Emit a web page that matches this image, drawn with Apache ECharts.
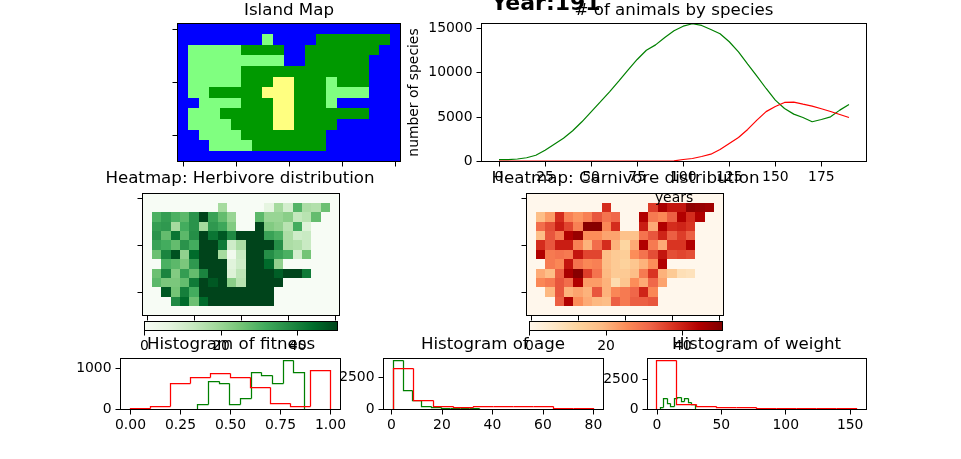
<!DOCTYPE html>
<html><head><meta charset="utf-8">
<style>html,body{margin:0;padding:0;background:#fff}#c{width:961px;height:459px}</style>
<script src="https://cdn.jsdelivr.net/npm/echarts@6/dist/echarts.min.js"></script>
</head><body><div id="c"></div>
<script>
// --- data ---
const islandRows = [
 "WWWWWWWWWWWWWWWWWWWWW",
 "WWWWWWWWLWWWWHHHHHHHW",
 "WLLLLLHHHHWWHHHHHHHWW",
 "WLLLLLLLLLWWHHHHHHWWW",
 "WLLLLLHHHHHHHHHHHHWWW",
 "WLLLLLHHHMMHHHLHHHWWW",
 "WLLHHHHHMMMHHHLLLLWWW",
 "WWLLLLHHHMMHHHLWWWWWW",
 "WLLLHHHHHMMHHHHHHHWWW",
 "WLLLLHHHHMMHHHHWWWWWW",
 "WWLLLLHHHHHHHHWWWWWWW",
 "WWWLLLLHHHHHHHWWWWWWW",
 "WWWWWWWWWWWWWWWWWWWWW"];
const herbivoreGrid = [
 [0,0,0,0,0,0,0,0,0,0,0,0,0,0,0,0,0,0,0,0,0],
 [0,0,0,0,0,0,0,0,18,0,0,0,0,6,18,10,29,17,16,26,0],
 [0,30,34,30,28,36,50,33,27,20,0,0,28,20,20,22,13,15,27,0,0],
 [0,34,35,18,31,36,18,35,32,23,0,0,50,23,21,15,31,8,0,0,0],
 [0,36,27,42,28,37,50,42,47,38,50,50,50,33,30,17,11,12,0,0,0],
 [0,33,31,27,36,31,50,50,41,11,17,50,50,50,37,17,16,12,0,0,0],
 [0,26,39,48,21,44,50,50,18,2,12,50,50,37,33,30,10,25,0,0,0],
 [0,0,30,28,24,35,50,50,50,7,11,50,50,44,21,0,0,0,0,0,0],
 [0,26,39,23,34,27,39,50,50,8,14,50,50,50,46,50,50,41,0,0,0],
 [0,28,24,24,27,41,50,47,50,22,15,50,50,50,50,0,0,0,0,0,0],
 [0,0,47,25,40,31,50,50,50,50,50,50,50,50,0,0,0,0,0,0,0],
 [0,0,0,38,44,26,44,50,50,50,50,50,50,50,0,0,0,0,0,0,0],
 [0,0,0,0,0,0,0,0,0,0,0,0,0,0,0,0,0,0,0,0,0]];
const carnivoreGrid = [
 [0,0,0,0,0,0,0,0,0,0,0,0,0,0,0,0,0,0,0,0,0],
 [0,0,0,0,0,0,0,0,38,0,0,0,0,36,45,41,41,48,47,46,0],
 [0,18,23,38,27,24,27,33,29,31,0,0,44,28,26,32,44,38,44,0,0],
 [0,30,34,40,35,27,49,49,26,38,0,0,40,21,44,38,39,37,0,0,0],
 [0,18,33,28,44,47,25,25,22,22,17,17,29,33,39,32,36,32,0,0,0],
 [0,38,33,40,40,27,20,30,38,20,12,21,44,28,21,37,37,44,0,0,0],
 [0,44,28,29,28,41,35,35,18,15,14,25,29,34,41,34,35,34,0,0,0],
 [0,0,28,26,41,29,26,27,18,15,13,16,20,25,44,0,0,0,0,0,0],
 [0,21,18,32,45,49,36,29,19,15,15,18,28,37,20,15,9,8,0,0,0],
 [0,26,28,33,30,44,23,23,20,10,16,25,21,31,22,0,0,0,0,0,0],
 [0,0,19,33,20,22,20,33,20,26,28,31,39,26,0,0,0,0,0,0,0],
 [0,0,0,32,44,25,21,19,18,32,28,32,32,33,0,0,0,0,0,0,0],
 [0,0,0,0,0,0,0,0,0,0,0,0,0,0,0,0,0,0,0,0,0]];
const years = [0,5,10,15,20,25,30,35,40,45,50,55,60,65,70,75,80,85,90,95,100,105,110,115,120,125,130,135,140,145,150,155,160,165,170,175,180,185,190];
const herbivores = [200,220,280,420,700,1270,1950,2620,3450,4460,5580,6700,7830,9030,10260,11460,12500,13100,13930,14680,15200,15470,15280,14830,14350,13450,12320,10940,9590,8200,6890,5955,5320,4940,4460,4720,5020,5770,6400];
const carnivores = [50,50,50,50,50,50,50,50,50,50,50,50,50,50,50,50,50,50,50,60,225,340,560,820,1350,2020,2700,3600,4650,5600,6180,6630,6670,6440,6220,5920,5620,5280,4940];
const fitEdgesRed = [0,0.1,0.2,0.3,0.4,0.5,0.6,0.7,0.8,0.9,1.0];
const fitCountsRed = [30,75,635,780,880,780,535,145,75,960];
const fitEdgesGreen = [0.337,0.39,0.443,0.496,0.55,0.603,0.656,0.71,0.763,0.816,0.868];
const fitCountsGreen = [130,680,635,120,275,900,835,635,1195,900];
const ageEdgesRed = [1,8.9,16.8,24.7,32.6,40.5,48.4,56.3,64.2,72.1,80];
const ageCountsRed = [3200,700,260,155,260,260,260,260,105,105];
const ageEdgesGreen = [0.8,4.6,8.4,12.1,15.9,19.7,23.5,27.3,31.1,34.9,38.1];
const ageCountsGreen = [3830,1480,730,235,130,100,80,50,50,25];
const weightEdgesRed = [0,15.5,31,46.5,62,77.5,93,108.5,124,139.5,155];
const weightCountsRed = [4040,410,275,190,190,110,110,110,110,110];
const weightEdgesGreen = [2.7,5.4,8.1,10.8,13.5,16.2,18.9,21.6,24.3,27,29.7];
const weightCountsGreen = [140,905,520,250,930,990,690,905,600,410];
const greens = ['#f7fcf5','#e5f5e0','#c7e9c0','#a1d99b','#74c476','#41ab5d','#238b45','#006d2c','#00441b'];
const orRd = ['#fff7ec','#fee8c8','#fdd49e','#fdbb84','#fc8d59','#ef6548','#d7301f','#b30000','#7f0000'];
const terrainKeys = ['W','L','H','M'];
const terrainColors = ['#0000ff','#80ff80','#009900','#ffff80'];

// --- helpers ---
const FF = 'DejaVu Sans';
const chart = echarts.init(document.getElementById('c'), null, {renderer:'canvas'});
const grids=[], xAxes=[], yAxes=[], series=[], titles=[], vms=[];
const line = {show:true,onZero:false,lineStyle:{color:'#000',width:1}};
const lbl = {color:'#000',fontFamily:FF,fontSize:13.9,margin:9};
function addGrid(g){ grids.push(Object.assign({containLabel:false,show:false},g)); return grids.length-1; }
function frame(gi){
  const base={type:'value',min:0,max:1,gridIndex:gi,z:5,axisLine:line,axisTick:{show:false},axisLabel:{show:false},splitLine:{show:false}};
  xAxes.push(Object.assign({},base,{position:'top'}));
  yAxes.push(Object.assign({},base,{position:'right'}));
}
function valueAxis(gi,min,max,ticks,fmt,extra){
  return Object.assign({type:'value',gridIndex:gi,min,max,z:5,axisLine:line,splitLine:{show:false},
    axisTick:{show:true,length:5,customValues:ticks,lineStyle:{color:'#000',width:1}},
    axisLabel:Object.assign({},lbl,{customValues:ticks,formatter:fmt||(v=>String(v)),showMinLabel:true,showMaxLabel:true})},extra||{});
}
function catAxis(gi,n,inverse,extra){
  return Object.assign({type:'category',gridIndex:gi,inverse:!!inverse,data:Array.from({length:n},(_,i)=>i),z:5,axisLine:line,
    splitLine:{show:false},axisLabel:{show:false},
    axisTick:{show:true,length:5,alignWithLabel:true,interval:i=>i%5===0,lineStyle:{color:'#000',width:1}}},extra||{});
}
function title(text,x,y,o){ titles.push({text,left:x,top:y,textAlign:'center',padding:0,
  textStyle:Object.assign({color:'#000',fontFamily:FF,fontSize:16.67,fontWeight:'normal'},o||{}),z:20}); }
function heat(g,grid,vmStops,pieces){
  const gi=addGrid(g);
  xAxes.push(catAxis(gi,21)); yAxes.push(catAxis(gi,13,true));
  frame(gi);
  const ai=xAxes.length-2;
  const data=[]; grid.forEach((row,r)=>row.forEach((v,c)=>data.push([c,r,v])));
  series.push({type:'custom',xAxisIndex:ai,yAxisIndex:ai,data,silent:true,encode:{x:0,y:1},
    renderItem:(p,api)=>{
      const m=api.coord([api.value(0),api.value(1)]), s=api.size([1,1]);
      const x0=Math.round(m[0]-s[0]/2), x1=Math.round(m[0]+s[0]/2), y0=Math.round(m[1]-s[1]/2), y1=Math.round(m[1]+s[1]/2);
      return {type:'rect',shape:{x:x0,y:y0,width:x1-x0,height:y1-y0},style:{fill:api.visual('color')}};
    }});
  const si=series.length-1;
  vms.push(pieces?{type:'piecewise',show:false,seriesIndex:si,dimension:2,pieces}
    :{type:'continuous',show:false,seriesIndex:si,dimension:2,min:0,max:50,inRange:{color:vmStops}});
}
function colorbar(g,stops){
  const gi=addGrid(g);
  xAxes.push(valueAxis(gi,0,50.4,[0,20,40]));
  yAxes.push({type:'value',gridIndex:gi,min:0,max:1,z:5,axisLine:line,axisTick:{show:false},axisLabel:{show:false},splitLine:{show:false}});
  frame(gi);
  const ai=xAxes.length-2;
  series.push({type:'custom',xAxisIndex:ai,yAxisIndex:ai,silent:true,data:[[0,50.4]],clip:true,
    renderItem:(p,api)=>{
      const a=api.coord([api.value(0),0]), b=api.coord([api.value(1),1]);
      return {type:'rect',shape:{x:a[0],y:b[1],width:b[0]-a[0],height:a[1]-b[1]},
        style:{fill:new echarts.graphic.LinearGradient(0,0,1,0,stops.map((c,i)=>({offset:i/(stops.length-1),color:c})))}};
    }});
}
function stepSeries(ai,edges,counts,color){
  // each bin: [left edge, right edge, count, previous count, next count]
  const rows=counts.map((c,i)=>[edges[i],edges[i+1],c,i?counts[i-1]:0,i===counts.length-1?0:-1]);
  return {type:'custom',xAxisIndex:ai,yAxisIndex:ai,data:rows,silent:true,clip:true,z:3,encode:{x:[0,1],y:2},
    renderItem:(p,api)=>{
      const snap=q=>[Math.round(q[0]-0.5)+0.5,Math.round(q[1]-0.5)+0.5];
      const L=api.value(0),R=api.value(1),C=api.value(2),P=api.value(3),N=api.value(4);
      const pts=[snap(api.coord([L,P])),snap(api.coord([L,C])),snap(api.coord([R,C]))];
      if(N===0) pts.push(snap(api.coord([R,0])));
      return {type:'polyline',shape:{points:pts},style:{fill:null,stroke:color,lineWidth:1.25,lineJoin:'miter'}};
    }};
}
function hist(g,xmin,xmax,xt,ymax,yt,xfmt,eG,cG,eR,cR){
  const gi=addGrid(g);
  xAxes.push(valueAxis(gi,xmin,xmax,xt,xfmt)); yAxes.push(valueAxis(gi,0,ymax,yt));
  frame(gi);
  const ai=xAxes.length-2;
  series.push(stepSeries(ai,eG,cG,'#008000'));
  series.push(stepSeries(ai,eR,cR,'#ff0000'));
}

// --- panels ---
const islandGrid = islandRows.map(r=>r.split('').map(k=>terrainKeys.indexOf(k)));
heat({left:177.5,top:23.5,width:223,height:138},islandGrid,null,terrainColors.map((color,value)=>({value,color})));

// line chart
{
  const gi=addGrid({left:481.5,top:23.5,width:385,height:138});
  xAxes.push(valueAxis(gi,-9.5,199.5,[0,25,50,75,100,125,150,175],null,{name:'years',nameLocation:'middle',nameGap:30,nameTextStyle:{color:'#000',fontFamily:FF,fontSize:13.9}}));
  yAxes.push(valueAxis(gi,0,15500,[0,5000,10000,15000],null,{name:'number of species',nameLocation:'middle',nameGap:60,nameTextStyle:{color:'#000',fontFamily:FF,fontSize:13.9}}));
  frame(gi);
  const ai=xAxes.length-2;
  const s=(vals,color)=>({type:'line',xAxisIndex:ai,yAxisIndex:ai,data:years.map((y,i)=>[y,vals[i]]),symbol:'none',showSymbol:false,silent:true,lineStyle:{color,width:1.2}});
  series.push(s(herbivores,'#008000'));
  series.push(s(carnivores,'#ff0000'));
}

heat({left:142.5,top:193.5,width:197,height:122},herbivoreGrid,greens);
heat({left:526.5,top:193.5,width:197,height:122},carnivoreGrid,orRd);
colorbar({left:144.5,top:321.5,width:193,height:9},greens);
colorbar({left:529.5,top:321.5,width:193,height:9},orRd);

hist({left:120.5,top:358.5,width:220,height:51},-0.05,1.05,[0,0.25,0.5,0.75,1],1244,[0,1000],v=>v.toFixed(2),fitEdgesGreen,fitCountsGreen,fitEdgesRed,fitCountsRed);
hist({left:383.5,top:358.5,width:220,height:51},-3.15,84,[0,20,40,60,80],3990,[0,2500],null,ageEdgesGreen,ageCountsGreen,ageEdgesRed,ageCountsRed);
hist({left:647.5,top:358.5,width:219,height:51},-7.3,162.7,[0,50,100,150],4200,[0,2500],null,weightEdgesGreen,weightCountsGreen,weightEdgesRed,weightCountsRed);

title('Island Map',289,2);
title('# of animals by species',674,2);
title('Heatmap: Herbivore distribution',240,170.5);
title('Heatmap: Carnivore distribution',625.5,170.5);
title('Histogram of fitness',231,336);
title('Histogram of age',493,336);
title('Histogram of weight',756.5,336);
title('Year:191',546,-7,{fontWeight:'bold',fontSize:22});

chart.setOption({animation:false,backgroundColor:'#fff',title:titles,grid:grids,xAxis:xAxes,yAxis:yAxes,visualMap:vms,series,tooltip:{show:false}});
</script></body></html>
